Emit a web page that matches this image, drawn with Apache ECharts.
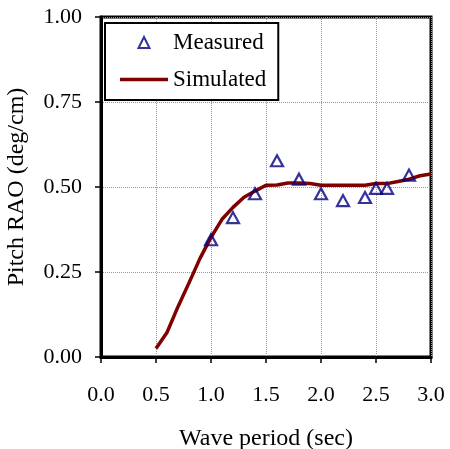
<!DOCTYPE html>
<html>
<head>
<meta charset="utf-8">
<script src="https://cdn.jsdelivr.net/npm/echarts@6/dist/echarts.min.js"></script>
<style>html,body{margin:0;padding:0;background:#fff}#c{width:450px;height:449px}</style>
</head>
<body>
<div id="c"></div>
<script>
var xTicks = [0, 0.5, 1.0, 1.5, 2.0, 2.5, 3.0];
var yTicks = [0, 0.25, 0.5, 0.75, 1.0];
var measuredX = [1.0, 1.2, 1.4, 1.6, 1.8, 2.0, 2.2, 2.4, 2.5, 2.6, 2.8];
var measuredY = [0.345, 0.41, 0.48, 0.577, 0.523, 0.48, 0.46, 0.469, 0.496, 0.496, 0.535];
var simX = [0.5, 0.6, 0.7, 0.8, 0.9, 1.0, 1.1, 1.2, 1.3, 1.4, 1.5, 1.6, 1.7, 1.8, 1.9, 2.0, 2.1, 2.2, 2.3, 2.4, 2.5, 2.6, 2.7, 2.8, 2.9, 3.0];
var simY = [0.025, 0.072, 0.148, 0.218, 0.29, 0.352, 0.405, 0.44, 0.47, 0.488, 0.505, 0.506, 0.512, 0.512, 0.51, 0.505, 0.505, 0.505, 0.505, 0.505, 0.51, 0.51, 0.516, 0.523, 0.533, 0.538];

var FONT = 'Liberation Serif';
var chart = echarts.init(document.getElementById('c'), null, {renderer: 'canvas'});
chart.setOption({
  animation: false,
  backgroundColor: '#fff',
  grid: {left: 101, right: 19, top: 17, bottom: 92, show: true, borderColor: '#000', borderWidth: 3,
    outerBoundsMode: 'none', containLabel: false},
  legend: {
    orient: 'vertical', left: 105, top: 23,
    padding: [8, 12, 9, 15],
    backgroundColor: '#fff', borderColor: '#000', borderWidth: 2,
    itemWidth: 48, itemHeight: 11, itemGap: 14, symbolKeepAspect: true,
    textStyle: {fontFamily: FONT, fontSize: 23, color: '#000', lineHeight: 23},
    data: [
      {name: 'Measured', icon: 'path://M5,0L10,10L0,10Z', itemStyle: {color: '#fff', borderColor: '#000080', borderWidth: 2}},
      {name: 'Simulated', icon: 'path://M0,0H48V3.5H0Z', itemStyle: {color: '#800000', borderWidth: 0}}
    ]
  },
  xAxis: {
    type: 'value', min: 0, max: 3, interval: 0.5,
    name: 'Wave period (sec)', nameLocation: 'middle', nameGap: 70,
    nameTextStyle: {fontFamily: FONT, fontSize: 24, color: '#000'},
    axisLine: {show: true, onZero: false, lineStyle: {color: '#000', width: 3}},
    axisTick: {show: true, inside: false, length: 6, lineStyle: {color: '#000', width: 1.5}},
    axisLabel: {fontFamily: FONT, fontSize: 22, color: '#000', margin: 27,
      formatter: function (v) { return v.toFixed(1); }},
    splitLine: {show: true, lineStyle: {color: '#999', type: 'dotted', width: 1}}
  },
  yAxis: {
    type: 'value', min: 0, max: 1, interval: 0.25,
    name: 'Pitch RAO (deg/cm)', nameLocation: 'middle', nameGap: 72, nameRotate: 90,
    nameTextStyle: {fontFamily: FONT, fontSize: 24, color: '#000'},
    axisLine: {show: true, onZero: false, lineStyle: {color: '#000', width: 3}},
    axisTick: {show: true, inside: false, length: 6, lineStyle: {color: '#000', width: 1.5}},
    axisLabel: {fontFamily: FONT, fontSize: 22, color: '#000', margin: 19,
      formatter: function (v) { return v.toFixed(2); }},
    splitLine: {show: true, lineStyle: {color: '#999', type: 'dotted', width: 1}}
  },
  series: [
    {
      name: 'Measured', type: 'scatter', symbol: 'triangle', symbolSize: [12, 11],
      itemStyle: {color: 'rgba(255,255,255,0)', borderColor: '#000080', borderWidth: 2.2},
      data: measuredX.map(function (x, i) { return [x, measuredY[i]]; }),
      z: 3
    },
    {
      name: 'Simulated', type: 'line', symbol: 'none', smooth: false,
      lineStyle: {color: '#800000', width: 3.5}, itemStyle: {color: '#800000'},
      data: simX.map(function (x, i) { return [x, simY[i]]; }),
      z: 2
    }
  ]
});
</script>
</body>
</html>
